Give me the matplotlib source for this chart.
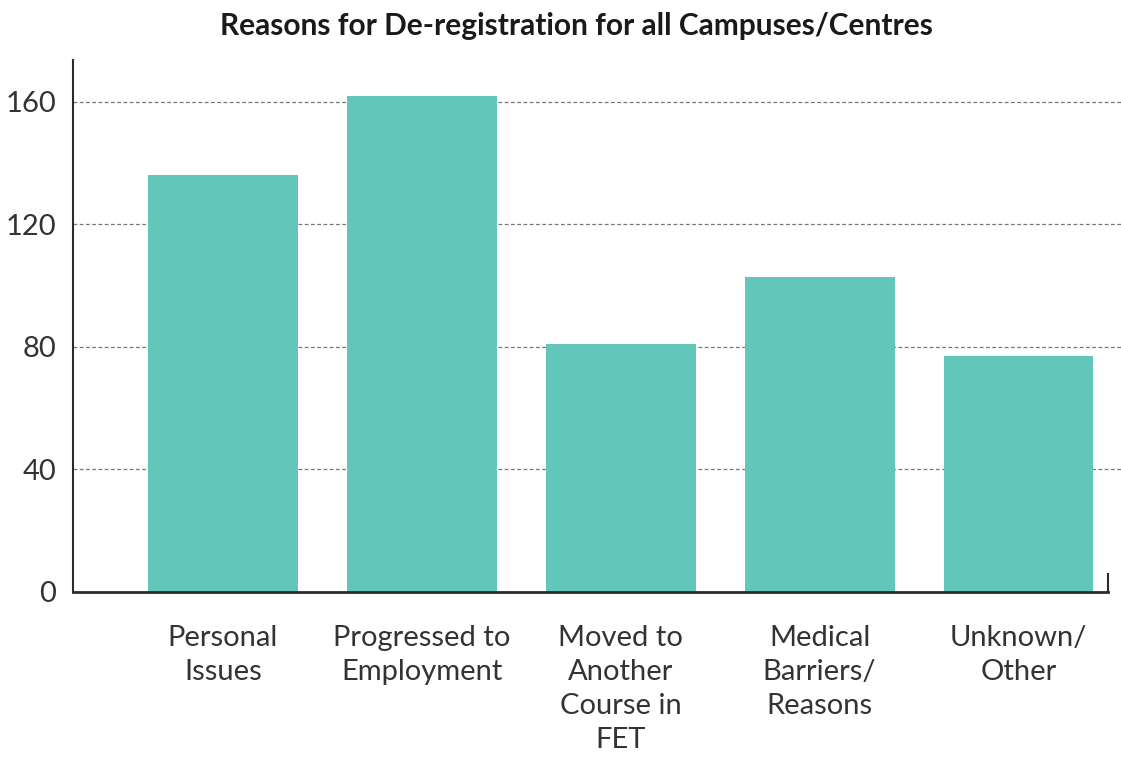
import matplotlib
matplotlib.use('Agg')
import matplotlib.pyplot as plt
import matplotlib.transforms as mtransforms
import numpy as np

# Data
categories = ['Personal\nIssues', 'Progressed to\nEmployment', 'Moved to\nAnother\nCourse in\nFET',
              'Medical\nBarriers/\nReasons', 'Unknown/\nOther']
values = [136, 162, 81, 103, 77]
y_ticks = [0, 40, 80, 120, 160]

BAR_COLOR = '#62C6BA'
TEXT_COLOR = '#2b2b2b'

plt.rcParams['font.family'] = ['Lato', 'DejaVu Sans']

fig = plt.figure(figsize=(11.21, 7.58), dpi=100)
ax = fig.add_axes([0.0651, 0.219, 0.9233, 0.7018])

x = np.arange(len(categories))
ax.bar(x, values, width=0.754, color=BAR_COLOR, zorder=2)

ax.set_xlim(-0.754, 4.45)
ax.set_ylim(0, 173.7)

# dashed gridlines that run past the right end of the axis
trans = mtransforms.blended_transform_factory(ax.transAxes, ax.transData)
for t in y_ticks[1:]:
    ax.plot([0, 1.02], [t, t], transform=trans, color='#777777', lw=0.9,
            ls=(0, (3, 2)), clip_on=False, zorder=1)

ax.set_yticks(y_ticks)
ax.set_yticklabels([str(t) for t in y_ticks], fontsize=21, color='#333333')
ax.tick_params(axis='y', length=0, pad=12)

ax.set_xticks(x)
ax.set_xticklabels(categories, fontsize=21, color='#333333', linespacing=1.38,
                   va='top')
ax.tick_params(axis='x', length=0, pad=24)

for side in ['top', 'right']:
    ax.spines[side].set_visible(False)
ax.spines['left'].set_color(TEXT_COLOR)
ax.spines['left'].set_linewidth(1.5)
ax.spines['bottom'].set_color(TEXT_COLOR)
ax.spines['bottom'].set_linewidth(2)
ax.spines['bottom'].set_zorder(3)

# small upward tick at the right end of the x axis
ax.plot([1, 1], [0, 6], transform=trans, color=TEXT_COLOR, lw=1.5, clip_on=False)

fig.text(0.514, 0.966, 'Reasons for De-registration for all Campuses/Centres',
         ha='center', va='center', fontsize=21.5, fontweight='bold', color='#1a1a1a')

plt.savefig('out.png', dpi=100, facecolor='white')
plt.close()
